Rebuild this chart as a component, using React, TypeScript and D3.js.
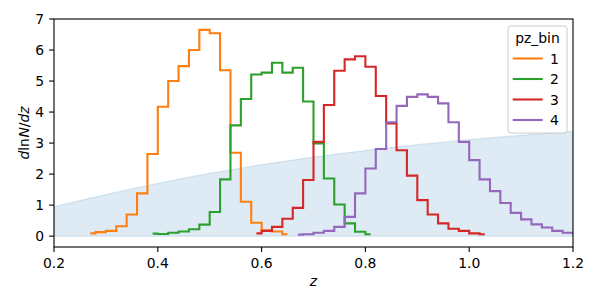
import React from "react";
import * as d3 from "d3";

// histogram bins (plotted as steps-mid on bin centres)
const binWidth = 0.02;
const seriesStart = [0.27, 0.39, 0.59, 0.67];
const bin1 = [0.09, 0.13, 0.17, 0.32, 0.7, 1.38, 2.65, 4.17, 5.0, 5.48, 6.0, 6.65, 6.54, 5.35, 2.69, 1.11, 0.43, 0.19, 0.15, 0.06];
const bin2 = [0.08, 0.07, 0.11, 0.15, 0.22, 0.37, 0.78, 1.83, 3.57, 4.42, 5.21, 5.27, 5.59, 5.27, 5.43, 4.34, 2.99, 1.86, 1.02, 0.41, 0.14, 0.06];
const bin3 = [0.09, 0.17, 0.3, 0.56, 0.91, 1.81, 3.04, 4.23, 5.33, 5.7, 5.8, 5.46, 4.52, 3.63, 2.77, 1.95, 1.16, 0.7, 0.41, 0.24, 0.17, 0.09, 0.06];
const bin4 = [0.05, 0.06, 0.11, 0.17, 0.3, 0.62, 1.38, 2.18, 2.81, 3.67, 4.2, 4.49, 4.57, 4.49, 4.28, 3.67, 3.04, 2.45, 1.83, 1.45, 1.07, 0.75, 0.54, 0.38, 0.28, 0.17, 0.11, 0.08];

// overall n(z), shaded
const nzZ = [0.2, 0.3, 0.4, 0.5, 0.6, 0.7, 0.8, 0.9, 1.0, 1.1, 1.2];
const nzVal = [0.95, 1.34, 1.7, 2.02, 2.3, 2.55, 2.76, 2.95, 3.11, 3.25, 3.38];

const xTicks = [0.2, 0.4, 0.6, 0.8, 1.0, 1.2];
const yTicks = [0, 1, 2, 3, 4, 5, 6, 7];
const legendLabels = ["1", "2", "3", "4"];
const colors = ["#ff7f0e", "#2ca02c", "#d62728", "#9467bd"];

const W = 600, H = 305;
const left = 54, right = 573, top = 19, bottom = 247;
const font = "DejaVu Sans";

export default function App() {
  const x = d3.scaleLinear().domain([0.2, 1.2]).range([left, right]);
  const y = d3.scaleLinear().domain([-0.35, 7]).range([bottom, top]);

  const series = [bin1, bin2, bin3, bin4].map((vals, i) =>
    vals.map((v, j) => ({ z: seriesStart[i] + j * binWidth, v }))
  );

  const step = d3.line<{ z: number; v: number }>()
    .x((d) => x(d.z))
    .y((d) => y(d.v))
    .curve(d3.curveStep);

  const nz = nzZ.map((z, i) => ({ z, v: nzVal[i] }));
  const area = d3.area<{ z: number; v: number }>()
    .x((d) => x(d.z))
    .y0(y(0))
    .y1((d) => y(d.v))
    .curve(d3.curveMonotoneX);

  const legendY = [58.5, 79, 99.5, 120];

  return (
    <div style={{ position: "absolute", left: 0, top: 0 }}>
      <svg width={W} height={H} style={{ display: "block", background: "#fff" }} fontFamily={font}>
        <defs>
          <clipPath id="plot">
            <rect x={left} y={top} width={right - left} height={bottom - top} />
          </clipPath>
        </defs>
        <g clipPath="url(#plot)">
          <path d={area(nz) ?? ""} fill="#1f77b4" fillOpacity={0.15} stroke="#1f77b4" strokeOpacity={0.15} strokeWidth={1.3} />
          {series.map((s, i) => (
            <path key={i} d={step(s) ?? ""} fill="none" stroke={colors[i]} strokeWidth={2.1} strokeLinejoin="miter" />
          ))}
        </g>
        <rect x={left} y={top} width={right - left} height={bottom - top} fill="none" stroke="#000" strokeWidth={1.1} />
        {xTicks.map((t) => (
          <g key={t}>
            <line x1={x(t)} x2={x(t)} y1={bottom} y2={bottom + 4.9} stroke="#000" strokeWidth={1.1} />
            <text x={x(t)} y={267.5} textAnchor="middle" fontSize={13.9} fill="#000">{t.toFixed(1)}</text>
          </g>
        ))}
        {yTicks.map((t) => (
          <g key={t}>
            <line x1={left - 4.9} x2={left} y1={y(t)} y2={y(t)} stroke="#000" strokeWidth={1.1} />
            <text x={44} y={y(t) + 5} textAnchor="end" fontSize={13.9} fill="#000">{t}</text>
          </g>
        ))}
        <text x={(left + right) / 2} y={286} textAnchor="middle" fontSize={13.9} fontStyle="italic">z</text>
        <text transform={`translate(29,${(top + bottom) / 2}) rotate(-90)`} textAnchor="middle" fontSize={13.9}>
          <tspan fontStyle="italic">d</tspan>
          <tspan>ln</tspan>
          <tspan dx={0.5} fontStyle="italic">N</tspan>
          <tspan>/</tspan>
          <tspan fontStyle="italic">dz</tspan>
        </text>
        <g>
          <rect x={508} y={26} width={59} height={107} rx={2.8} fill="#fff" fillOpacity={0.8} stroke="#cccccc" strokeWidth={1} />
          <text x={537.5} y={43} textAnchor="middle" fontSize={13.9}>pz_bin</text>
          {legendLabels.map((l, i) => (
            <g key={l}>
              <line x1={512.7} x2={542.7} y1={legendY[i]} y2={legendY[i]} stroke={colors[i]} strokeWidth={2.1} />
              <text x={550} y={legendY[i] + 5} fontSize={13.9}>{l}</text>
            </g>
          ))}
        </g>
      </svg>
    </div>
  );
}
